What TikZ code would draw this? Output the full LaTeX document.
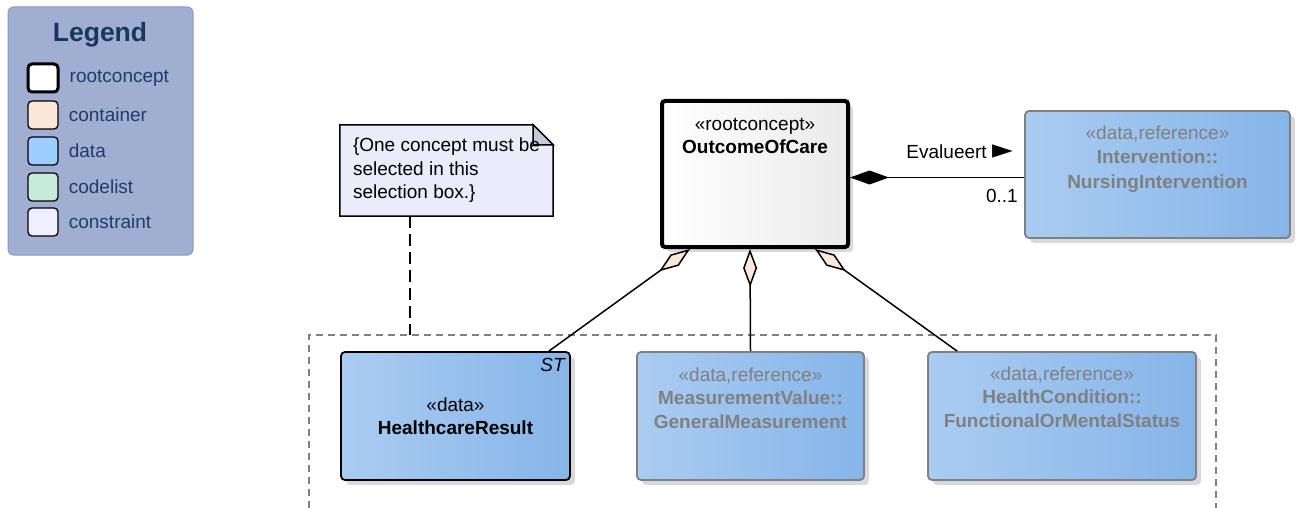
\documentclass[tikz,border=0pt]{standalone}
\usepackage{fontspec}
\setmainfont{Liberation Sans}
\newfontfamily\symfont{DejaVu Sans}
\usetikzlibrary{positioning,arrows.meta,shadows}

\definecolor{legendfill}{HTML}{A0AED2}
\definecolor{legendline}{HTML}{8C9AC0}
\definecolor{legendtext}{HTML}{1E3C6E}
\definecolor{legendtitlecol}{HTML}{173761}
\definecolor{containerfill}{HTML}{FCE8D8}
\definecolor{datafill}{HTML}{9ECEFF}
\definecolor{codelistfill}{HTML}{C6EBDC}
\definecolor{constraintfill}{HTML}{EEEEFF}
\definecolor{dataleft}{HTML}{AACCF2}
\definecolor{dataright}{HTML}{86B5E9}
\definecolor{refgray}{HTML}{808080}
\definecolor{notefill}{HTML}{EBEBFC}
\definecolor{foldfill}{HTML}{C8C8D8}
\definecolor{rootright}{HTML}{EAEAEA}

\tikzset{
	boxshadow/.style={drop shadow={shadow xshift=5pt, shadow yshift=-5pt, fill=black!15, opacity=1}},
	databox/.style={draw=black, line width=1.8pt, rounded corners=4pt, left color=dataleft, right color=dataright, boxshadow},
	refbox/.style={databox, draw=refgray},
	rootbox/.style={draw=black, line width=4pt, rounded corners=3pt, left color=white, right color=rootright, boxshadow},
	swatch/.style={draw=black, line width=1.3pt, rounded corners=4pt, minimum width=30pt, minimum height=28pt, inner sep=0pt},
	legendlabel/.style={text=legendtext, font=\fontsize{19}{23}\selectfont, anchor=west, inner sep=0pt},
	boxtext/.style={align=center, inner sep=0pt, font=\fontsize{19}{23.5}\selectfont},
	reftext/.style={boxtext, text=refgray},
	aggr/.style={line width=1.5pt, -{Diamond[length=38pt, width=14pt, fill=containerfill]}},
	comp/.style={line width=1.5pt, -{Diamond[length=39pt, width=14pt]}},
}

\begin{document}
\begin{tikzpicture}[x=1pt, y=-1pt]
	\useasboundingbox (0,0) rectangle (1296,508);
	\node[draw=legendline, line width=1pt, fill=legendfill, rounded corners=5pt, minimum width=185pt, minimum height=248pt, inner sep=0pt] (legend) at (100.5,131) {};
	\node[text=legendtitlecol, font=\fontsize{26.5}{26.5}\selectfont\bfseries] (legendtitle) at (100,35) {Legend};
	\node[swatch, fill=white, line width=3pt] (rootswatch) at (43,78) {};
	\node[swatch, fill=containerfill] (containerswatch) at (43,115) {};
	\node[swatch, fill=datafill] (dataswatch) at (43,151) {};
	\node[swatch, fill=codelistfill] (codelistswatch) at (43,187) {};
	\node[swatch, fill=constraintfill] (constraintswatch) at (43,222) {};
	\node[legendlabel, right=10pt of rootswatch] (rootlabel) {rootconcept};
	\node[legendlabel, right=10pt of containerswatch] (containerlabel) {container};
	\node[legendlabel, right=10pt of dataswatch] (datalabel) {data};
	\node[legendlabel, right=10pt of codelistswatch] (codelistlabel) {codelist};
	\node[legendlabel, right=10pt of constraintswatch] (constraintlabel) {constraint};

	\coordinate (boxtl) at (309,335);
	\coordinate (boxbr) at (1216,508);
	\draw[refgray, line width=1.3pt, dash pattern=on 7pt off 5pt] (boxtl |- boxbr) -- (boxtl) -- (boxtl -| boxbr) -- (boxbr);

	\node[minimum width=213pt, minimum height=91pt, inner sep=0pt] (note) at (446.5,170.5) {};
	\draw[line width=1.5pt, fill=notefill] (note.south west) -- (note.north west) -- ([xshift=-20pt]note.north east) -- ([yshift=-20pt]note.north east) -- (note.south east) -- cycle;
	\draw[line width=1.5pt, fill=foldfill] ([xshift=-20pt]note.north east) -- ([xshift=-20pt, yshift=-20pt]note.north east) -- ([yshift=-20pt]note.north east) -- cycle;
	\node[align=left, inner sep=0pt, font=\fontsize{19}{23.5}\selectfont] (notetext) at (note) {\{One concept must be\\selected in this\\selection box.\}};
	\coordinate (notefoot) at ([xshift=70pt]note.south west);
	\draw[line width=1.5pt, dash pattern=on 12pt off 6pt] (notefoot) -- (notefoot |- boxtl);

	\node[rootbox, minimum width=186pt, minimum height=146pt] (ooc) at (755,174) {};
	\node[refbox, minimum width=265pt, minimum height=127pt] (iv) at (1157.5,174.5) {};
	\node[databox, minimum width=229pt, minimum height=128pt] (hr) at (455.5,416) {};
	\node[refbox, minimum width=227pt, minimum height=128pt] (mv) at (750.5,416) {};
	\node[refbox, minimum width=268pt, minimum height=128pt] (hc) at (1062,416) {};

	\node[boxtext, below=19pt of ooc.north] (ooctext) {«rootconcept»\\\textbf{OutcomeOfCare}};
	\node[reftext, font=\fontsize{19}{24.5}\selectfont, below=15pt of iv.north] (ivtext) {«data,reference»\\\textbf{Intervention::}\\\textbf{NursingIntervention}};
	\node[boxtext, below=46pt of hr.north] (hrtext) {«data»\\\textbf{HealthcareResult}};
	\node[boxtext, font=\fontsize{19}{23}\selectfont\itshape, anchor=north east] (hrst) at ([xshift=-6pt, yshift=-7pt]hr.north east) {ST};
	\node[reftext, below=16pt of mv.north] (mvtext) {«data,reference»\\\textbf{MeasurementValue::}\\\textbf{GeneralMeasurement}};
	\node[reftext, below=15pt of hc.north] (hctext) {«data,reference»\\\textbf{HealthCondition::}\\\textbf{FunctionalOrMentalStatus}};

	\coordinate (compend) at ([yshift=-3pt]iv.west);
	\draw[comp] (compend) -- (compend -| ooc.east);
	\node[font=\fontsize{19}{23}\selectfont, inner sep=0pt, anchor=east] (evallabel) at (1013,152) {Evalueert {\symfont\fontsize{27}{27}\selectfont ►}};
	\node[font=\fontsize{19}{23}\selectfont, inner sep=0pt, anchor=east] (multlabel) at (1018,196) {0..1};

	\draw[aggr] ([xshift=-22pt]hr.north east) -- ([xshift=-65pt]ooc.south);
	\draw[aggr] (mv.north) -- ([xshift=-5pt]ooc.south);
	\draw[aggr] ([xshift=30pt]hc.north west) -- ([xshift=60pt]ooc.south);
\end{tikzpicture}
\end{document}
